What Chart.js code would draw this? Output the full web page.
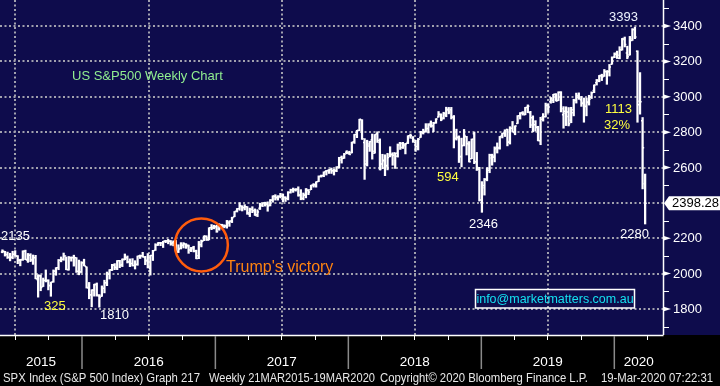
<!DOCTYPE html>
<html>
<head>
<meta charset="utf-8">
<script src="https://cdn.jsdelivr.net/npm/chart.js@4.4.1/dist/chart.umd.min.js"></script>
<style>
  html,body{margin:0;padding:0;background:#000;}
  canvas{display:block;}
</style>
</head>
<body>
<canvas id="c" width="720" height="386"></canvas>
<script>
// weekly bars [open, high, low, close], week ending 22 May 2015 onwards
const w2015 = [
  [2122.3,2134.7,2117.7,2126.1],[2125.3,2126.2,2099.2,2107.4],[2108.6,2121.9,2085.7,2092.8],[2092.3,2115.0,2072.1,2094.1],
  [2091.3,2126.6,2084.0,2110.0],[2110.6,2130.0,2097.4,2101.5],[2098.0,2102.0,2056.3,2076.8],[2075.0,2081.3,2044.0,2076.6],
  [2080.0,2129.0,2075.0,2126.6],[2126.8,2132.8,2079.0,2079.7],[2076.0,2114.2,2063.5,2103.8],[2104.5,2112.7,2067.9,2077.6],
  [2080.0,2105.4,2052.1,2091.5],[2090.0,2103.5,1970.9,1970.9],[1965.2,1993.5,1867.0,1988.9],[1986.7,1992.4,1903.1,1921.2],
  [1927.3,1975.0,1927.0,1961.1],[1963.1,2020.9,1953.0,1958.0],[1960.8,1965.4,1908.0,1931.3],[1934.6,1952.0,1871.9,1951.4],
  [1954.3,2020.9,1951.4,2014.9],[2013.7,2034.0,1990.7,2033.1],[2033.5,2080.0,2022.0,2075.2],[2075.1,2094.3,2066.7,2079.4],
  [2080.8,2116.5,2075.4,2099.2],[2100.0,2093.8,2022.0,2023.0],[2022.1,2097.1,2019.4,2089.2],[2089.4,2095.0,2070.3,2090.1],
  [2090.9,2104.3,2042.4,2091.7],[2090.4,2090.4,2006.9,2012.4],[2013.4,2076.7,1993.3,2005.6],[2010.3,2067.7,2005.9,2061.0],
  [2060.6,2081.6,2043.6,2043.9]
];
const w2016 = [
  [2038.2,2038.2,1918.5,1922.0],[1916.7,1950.3,1857.8,1880.3],[1878.9,1908.9,1812.3,1906.9],[1906.3,1940.2,1872.7,1940.2],
  [1936.9,1947.2,1872.7,1880.1],[1873.3,1881.6,1810.1,1864.8],[1871.4,1930.7,1871.4,1917.8],[1917.8,1962.9,1891.0,1948.1],
  [1947.1,2009.1,1931.8,2000.0],[1996.1,2022.4,1969.3,2022.2],[2019.3,2052.4,2017.1,2049.6],[2047.9,2056.6,2022.5,2035.9],
  [2032.5,2074.0,2022.5,2072.8],[2073.2,2075.1,2033.8,2047.6],[2050.2,2083.2,2039.7,2080.7],[2078.8,2111.1,2078.5,2091.6],
  [2089.4,2099.9,2060.2,2065.3],[2067.2,2083.4,2039.5,2057.1],[2057.6,2084.9,2043.0,2046.6],[2046.5,2073.2,2025.9,2052.3],
  [2052.2,2099.3,2047.3,2099.1],[2100.1,2105.3,2085.4,2099.1],[2101.0,2120.6,2093.0,2096.1],[2091.8,2097.7,2050.4,2071.2],
  [2075.6,2113.3,2032.1,2037.4],[2030.0,2104.0,1991.7,2103.0],[2103.1,2131.7,2074.0,2129.9],[2132.0,2169.1,2131.5,2161.7],
  [2162.0,2175.6,2159.0,2175.0],[2173.7,2177.1,2157.9,2173.6],[2173.1,2183.0,2147.6,2182.9],[2183.8,2188.5,2175.0,2184.1],
  [2186.1,2193.8,2168.5,2183.9],[2183.7,2187.0,2160.4,2169.0],[2175.1,2185.4,2157.1,2180.0],[2181.6,2187.9,2127.8,2127.8],
  [2120.9,2163.3,2119.1,2139.2],[2143.0,2175.3,2139.1,2164.7],[2159.5,2175.3,2145.0,2168.3],[2164.3,2169.6,2142.6,2153.7],
  [2160.4,2161.6,2114.7,2133.0],[2132.9,2148.4,2124.4,2141.2],[2148.5,2154.8,2122.5,2126.4],[2129.0,2133.0,2083.8,2085.2],
  [2100.6,2182.3,2084.3,2164.5],[2163.9,2189.9,2151.1,2181.9],[2186.4,2213.4,2186.4,2213.4],[2210.2,2214.1,2187.4,2192.0],
  [2190.6,2259.5,2190.6,2259.5],[2258.8,2277.5,2248.4,2258.1],[2266.5,2273.8,2253.0,2263.8],[2265.2,2273.4,2233.6,2238.8]
];
const w2017 = [
  [2251.6,2282.1,2245.1,2277.0],[2273.6,2279.3,2254.3,2274.6],[2269.1,2276.1,2258.8,2271.3],[2267.8,2301.0,2257.0,2294.7],
  [2286.0,2298.3,2267.2,2297.4],[2294.3,2319.2,2288.5,2316.1],[2321.7,2351.3,2321.7,2351.2],[2354.0,2368.3,2348.4,2367.3],
  [2366.1,2401.0,2358.0,2383.1],[2380.1,2384.0,2354.2,2372.6],[2374.4,2390.0,2360.1,2378.3],[2378.2,2378.8,2335.3,2344.0],
  [2336.1,2370.4,2322.3,2362.7],[2363.9,2378.4,2344.5,2355.5],[2356.6,2366.0,2328.9,2329.0],[2332.6,2361.4,2322.3,2348.7],
  [2370.3,2398.2,2362.5,2384.2],[2388.5,2399.3,2378.8,2399.3],[2401.4,2403.9,2381.7,2390.9],[2393.0,2405.8,2352.7,2381.7],
  [2387.2,2418.7,2382.6,2415.8],[2414.5,2440.2,2403.9,2439.1],[2435.9,2446.2,2415.7,2431.8],[2427.4,2441.1,2415.5,2433.2],
  [2437.0,2453.8,2428.1,2438.3],[2436.3,2450.4,2405.7,2423.4],[2431.4,2434.6,2407.7,2425.2],[2424.5,2463.5,2416.7,2459.3],
  [2458.3,2477.6,2455.3,2472.5],[2473.5,2484.0,2459.3,2472.1],[2475.9,2480.4,2466.5,2476.8],[2477.1,2490.9,2437.8,2441.3],
  [2445.3,2474.9,2417.4,2425.6],[2424.1,2456.0,2417.4,2443.1],[2447.3,2481.0,2428.2,2476.6],[2469.7,2475.5,2446.6,2461.4],
  [2474.5,2500.2,2474.5,2500.2],[2501.0,2509.0,2488.9,2502.2],[2497.0,2519.4,2488.7,2519.4],[2521.2,2552.5,2520.4,2549.3],
  [2550.2,2557.6,2545.5,2553.2],[2555.3,2575.4,2547.9,2575.2],[2578.1,2583.0,2557.3,2581.1],[2583.2,2588.4,2566.2,2587.8],
  [2588.7,2597.0,2566.3,2582.3],[2580.2,2590.7,2557.4,2578.9],[2582.9,2604.2,2576.2,2602.4],[2602.7,2657.7,2597.0,2642.2],
  [2657.2,2665.2,2624.8,2651.5],[2652.2,2679.6,2651.5,2675.8],[2685.9,2695.0,2677.1,2683.3],[2682.1,2692.1,2673.6,2673.6]
];
const w2018 = [
  [2683.7,2743.5,2682.4,2743.2],[2745.6,2787.0,2736.1,2786.2],[2798.0,2810.3,2768.6,2810.3],[2809.2,2872.9,2808.1,2872.9],
  [2867.2,2870.6,2759.0,2762.1],[2741.1,2763.4,2532.7,2619.6],[2636.8,2754.4,2608.5,2732.2],[2722.0,2747.8,2691.0,2747.3],
  [2757.0,2789.2,2647.3,2691.3],[2681.1,2786.6,2681.1,2786.6],[2790.5,2802.0,2741.4,2752.0],[2741.4,2761.9,2585.9,2588.3],
  [2619.4,2674.8,2593.1,2640.9],[2633.5,2672.1,2553.8,2604.5],[2612.0,2680.3,2586.5,2656.3],[2670.1,2717.5,2660.0,2670.1],
  [2675.4,2683.6,2612.7,2669.9],[2682.5,2682.9,2594.6,2663.4],[2680.4,2732.9,2658.8,2727.7],[2738.5,2742.1,2701.9,2713.0],
  [2735.4,2742.2,2707.4,2721.3],[2727.1,2736.9,2676.8,2734.6],[2741.7,2779.9,2735.1,2779.0],[2780.2,2789.1,2765.2,2779.7],
  [2765.8,2775.0,2742.1,2754.9],[2742.9,2754.1,2691.0,2718.4],[2704.9,2764.4,2699.0,2759.8],[2769.7,2804.5,2770.0,2801.3],
  [2796.9,2816.8,2789.2,2801.8],[2804.6,2848.0,2799.2,2818.8],[2821.2,2848.0,2795.1,2840.4],[2849.2,2863.4,2827.6,2833.3],
  [2835.5,2855.6,2802.5,2850.1],[2853.9,2876.2,2849.9,2874.7],[2885.8,2916.5,2884.7,2901.5],[2898.4,2903.8,2864.1,2871.7],
  [2879.4,2912.4,2874.0,2905.0],[2896.0,2940.9,2886.9,2929.7],[2925.5,2939.9,2903.3,2914.0],[2926.3,2939.9,2874.0,2885.6],
  [2882.5,2894.0,2710.5,2767.1],[2763.8,2816.9,2755.0,2767.8],[2773.9,2778.9,2628.2,2658.7],[2662.0,2766.0,2603.5,2723.1],
  [2726.4,2815.2,2722.0,2781.0],[2773.9,2776.0,2670.7,2736.3],[2730.1,2746.8,2631.1,2632.6],[2649.9,2760.9,2649.9,2760.2],
  [2790.5,2800.2,2621.5,2633.1],[2630.9,2685.4,2583.2,2600.0],[2590.8,2601.1,2410.3,2416.6],[2400.6,2520.3,2346.6,2485.7]
];
const w2019 = [
  [2498.9,2538.1,2444.0,2531.9],[2535.6,2597.8,2524.6,2596.3],[2585.1,2675.5,2570.4,2670.7],[2653.6,2675.5,2612.9,2664.8],
  [2657.9,2716.7,2631.6,2706.5],[2712.4,2739.0,2681.8,2707.9],[2712.4,2775.7,2703.6,2775.6],[2780.7,2794.2,2767.1,2792.7],
  [2799.8,2813.5,2775.1,2803.7],[2814.4,2816.9,2722.3,2743.1],[2747.6,2830.7,2732.5,2822.5],[2822.6,2860.3,2800.7,2800.7],
  [2796.0,2836.0,2785.0,2834.4],[2848.6,2893.4,2848.6,2892.7],[2892.2,2910.5,2873.9,2907.4],[2909.0,2916.1,2896.3,2905.0],
  [2898.8,2940.0,2898.0,2939.9],[2940.6,2954.1,2909.6,2945.6],[2908.9,2917.6,2825.4,2881.4],[2840.2,2892.2,2801.4,2859.5],
  [2841.9,2865.0,2805.5,2826.1],[2830.0,2833.0,2750.5,2752.1],[2751.5,2884.0,2728.8,2873.3],[2885.8,2905.0,2862.3,2887.0],
  [2886.8,2964.2,2885.6,2950.5],[2952.7,2960.0,2910.6,2941.8],[2971.4,2996.0,2963.4,2990.4],[2980.3,3013.9,2966.4,3013.8],
  [3012.1,3017.8,2975.9,2976.6],[2978.1,3028.0,2978.1,3025.9],[3024.5,3029.0,2914.1,2932.1],[2898.1,2944.2,2822.1,2918.7],
  [2907.1,2943.3,2836.9,2888.7],[2913.5,2939.1,2835.0,2847.1],[2866.7,2940.4,2853.0,2926.5],[2909.0,2985.9,2891.9,2978.7],
  [2980.3,3020.7,2964.2,3007.4],[2996.4,3022.0,2985.0,2992.1],[2983.5,3002.0,2945.5,2961.8],[2967.1,2993.0,2856.0,2952.0],
  [2944.2,2993.3,2892.0,2970.3],[2965.8,3008.3,2952.9,2986.2],[2996.5,3027.4,2990.0,3022.6],[3035.4,3067.0,3023.2,3066.9],
  [3078.9,3097.8,3066.0,3093.1],[3087.0,3120.5,3084.4,3120.5],[3117.4,3127.6,3091.4,3110.3],[3117.9,3154.3,3115.0,3141.0],
  [3143.9,3146.0,3070.3,3145.9],[3141.9,3182.7,3117.0,3168.8],[3183.6,3225.6,3183.6,3221.2],[3225.4,3248.0,3220.9,3240.0]
];
const w2020 = [
  [3247.2,3258.1,3216.0,3234.9],[3217.6,3283.0,3214.6,3265.4],[3263.9,3329.9,3263.6,3329.6],[3323.7,3337.8,3281.5,3295.5],
  [3247.2,3285.9,3214.7,3225.5],[3235.7,3341.4,3235.7,3327.7],[3318.3,3385.1,3318.3,3380.2],[3378.1,3393.5,3328.5,3337.8],
  [3257.6,3259.8,2855.8,2954.2],[2974.3,3136.7,2901.5,2972.4],[2863.9,2882.6,2478.9,2711.0],[2508.6,2563.0,2280.5,2398.28]
];
const weeks = [].concat(w2015, w2016, w2017, w2018, w2019, w2020);

const yearLabels = ['2015','2016','2017','2018','2019','2020'];
const yearStarts = [31.2, 83.49, 135.63, 187.77, 239.91];   // in week units
const quarterTicks = [4.9, 18.06, 44.2, 57.2, 70.34, 96.34, 109.34, 122.49, 148.49, 161.49, 174.63, 200.63, 213.63, 226.77, 252.91];
const priceTicks = [1800, 2000, 2200, 2400, 2600, 2800, 3000, 3200, 3400];
const minorTicks = [1700, 1900, 2100, 2300, 2500, 2700, 2900, 3100, 3300, 3500];
const lastPrice = '2398.28';

const FONT = '"Liberation Sans", Arial, sans-serif';

// draw text squeezed/stretched to a given width
function fitText(ctx, t, x, y, w){
  const m = ctx.measureText(t).width;
  ctx.save();
  ctx.translate(x, y); ctx.scale(w / m, 1);
  ctx.fillText(t, 0, 0);
  ctx.restore();
}

const background = {
  id:'background',
  beforeDraw(chart){
    const {ctx, chartArea:a, width, height} = chart;
    ctx.save();
    ctx.fillStyle = '#0e0c4c'; ctx.fillRect(0, 0, width, height);
    ctx.fillStyle = '#000'; ctx.fillRect(0, a.bottom, width, height - a.bottom);
    ctx.restore();
  }
};

// open / close ticks on each high-low bar
const ohlcTicks = {
  id:'ohlcTicks',
  afterDatasetsDraw(chart){
    const {ctx, scales:{y}} = chart;
    const meta = chart.getDatasetMeta(0);
    ctx.save();
    ctx.strokeStyle = '#fff'; ctx.lineWidth = 1.5;
    ctx.beginPath();
    meta.data.forEach((el, i)=>{
      const yo = y.getPixelForValue(weeks[i][0]);
      const yc = y.getPixelForValue(weeks[i][3]);
      ctx.moveTo(el.x - 1.6, yo); ctx.lineTo(el.x, yo);
      ctx.moveTo(el.x, yc); ctx.lineTo(el.x + 1.6, yc);
    });
    ctx.stroke();
    ctx.restore();
  }
};

const decorations = {
  id:'decorations',
  afterDraw(chart){
    const {ctx, chartArea:a, scales:{x, y}, width} = chart;
    ctx.save();
    // axis lines
    ctx.strokeStyle = '#fff'; ctx.lineWidth = 1.5;
    ctx.beginPath();
    ctx.moveTo(a.right + 0.5, a.top); ctx.lineTo(a.right + 0.5, a.bottom);
    ctx.moveTo(a.left, a.bottom + 0.5); ctx.lineTo(a.right + 0.5, a.bottom + 0.5);
    ctx.stroke();

    // bottom time axis
    ctx.lineWidth = 1;
    ctx.beginPath();
    quarterTicks.forEach(q=>{
      const px = Math.round(x.getPixelForValue(q)) + 0.5;
      ctx.moveTo(px, a.bottom); ctx.lineTo(px, a.bottom + 5);
    });
    ctx.stroke();
    ctx.strokeStyle = '#8a8a8a'; ctx.lineWidth = 1.5;
    ctx.beginPath();
    yearStarts.forEach(v=>{
      const px = x.getPixelForValue(v);
      ctx.moveTo(px, a.bottom + 1); ctx.lineTo(px, a.bottom + 34);
    });
    ctx.stroke();
    const edges = [a.left].concat(yearStarts.map(v=>x.getPixelForValue(v)), [a.right]);
    ctx.fillStyle = '#fff'; ctx.font = '13.5px ' + FONT;
    ctx.textAlign = 'center'; ctx.textBaseline = 'alphabetic';
    yearLabels.forEach((lbl, i)=>{
      ctx.fillText(lbl, (edges[i] + edges[i+1]) / 2, a.bottom + 31);
    });
    ctx.font = '12px ' + FONT; ctx.textAlign = 'left'; ctx.fillStyle = '#e8e8e8';
    fitText(ctx, 'SPX Index (S&P 500 Index) Graph 217', 3, 382, 197);
    fitText(ctx, 'Weekly 21MAR2015-19MAR2020', 209, 382, 166);
    fitText(ctx, 'Copyright\u00A9 2020 Bloomberg Finance L.P.', 380, 382, 208);
    fitText(ctx, '19-Mar-2020 07:22:31', 601, 382, 112);

    // right price axis
    const lastY = y.getPixelForValue(weeks[weeks.length-1][3]);
    ctx.strokeStyle = '#fff'; ctx.lineWidth = 1;
    ctx.beginPath();
    minorTicks.forEach(v=>{
      const py = Math.round(y.getPixelForValue(v)) + 0.5;
      ctx.moveTo(a.right, py); ctx.lineTo(a.right + 6, py);
    });
    ctx.stroke();
    ctx.font = '13px ' + FONT; ctx.textBaseline = 'middle'; ctx.textAlign = 'left';
    priceTicks.forEach(v=>{
      const py = y.getPixelForValue(v);
      if (Math.abs(py - lastY) < 10) return;
      ctx.fillStyle = '#fff';
      ctx.beginPath();
      ctx.moveTo(a.right, py - 2.5); ctx.lineTo(a.right + 8, py); ctx.lineTo(a.right, py + 2.5);
      ctx.closePath(); ctx.fill();
      ctx.fillText(String(v), a.right + 10, py + 0.5);
    });
    // last price callout
    ctx.fillStyle = '#fff';
    ctx.beginPath();
    ctx.moveTo(a.right + 1, lastY);
    ctx.lineTo(a.right + 6, lastY - 7);
    ctx.lineTo(width, lastY - 7);
    ctx.lineTo(width, lastY + 7);
    ctx.lineTo(a.right + 6, lastY + 7);
    ctx.closePath(); ctx.fill();
    ctx.fillStyle = '#000';
    ctx.fillText(lastPrice, a.right + 9, lastY + 0.5);

    // annotations
    ctx.font = '13px ' + FONT;
    ctx.fillStyle = '#90ee90';
    ctx.fillText('US S&P500 Weekly Chart', 72, 76);
    const notes = [
      ['2135', 1, 236, '#fff'], ['325', 44, 306, '#ffff40'], ['1810', 100, 315, '#fff'],
      ['594', 437, 177, '#ffff40'], ['2346', 469, 224, '#fff'], ['3393', 609, 17, '#eef4ff'],
      ['1113', 605, 109, '#ffff40'], ['32%', 604, 125, '#ffff40'], ['2280', 620, 234, '#fff']
    ];
    notes.forEach(([t, px, py, c])=>{ ctx.fillStyle = c; ctx.fillText(t, px, py); });

    // Trump circle
    ctx.strokeStyle = '#ff5c0c'; ctx.lineWidth = 2.5;
    ctx.beginPath();
    ctx.arc(x.getPixelForValue(78), y.getPixelForValue(2162), 26.5, 0, Math.PI * 2);
    ctx.stroke();
    ctx.font = '16px ' + FONT; ctx.fillStyle = '#ff8410';
    ctx.fillText("Trump's victory", 226, 268);

    // contact box
    ctx.strokeStyle = '#fff'; ctx.lineWidth = 1.5;
    ctx.strokeRect(475.5, 289.5, 159, 18.5);
    ctx.font = '12.5px ' + FONT; ctx.fillStyle = '#14e0f0'; ctx.textAlign = 'center';
    ctx.fillText('info@marketmatters.com.au', 555, 299.5);
    ctx.restore();
  }
};

new Chart(document.getElementById('c'), {
  type:'bar',
  data:{
    datasets:[{
      data: weeks.map((w, i)=>({x:i, y:[w[2], w[1]]})),
      backgroundColor:'#fff', borderWidth:0, barThickness:1.6
    }]
  },
  options:{
    responsive:false, animation:false, devicePixelRatio:1,
    layout:{padding:{left:0, top:0, right:57, bottom:51}},
    plugins:{legend:{display:false}, tooltip:{enabled:false}},
    scales:{
      x:{
        type:'linear', min:-0.95, max:259.0, offset:false,
        ticks:{display:false},
        grid:{color:'#a2a2ae', lineWidth:2, drawTicks:false},
        border:{display:false, dash:[2,2.5]},
        afterBuildTicks(s){ s.ticks = yearStarts.map(v=>({value:v})); }
      },
      y:{
        type:'linear', position:'right', min:1653, max:3547,
        ticks:{display:false},
        grid:{color:'#a2a2ae', lineWidth:2, drawTicks:false},
        border:{display:false, dash:[2,2.5]},
        afterBuildTicks(s){ s.ticks = priceTicks.map(v=>({value:v})); }
      }
    }
  },
  plugins:[background, ohlcTicks, decorations]
});
</script>
</body>
</html>
